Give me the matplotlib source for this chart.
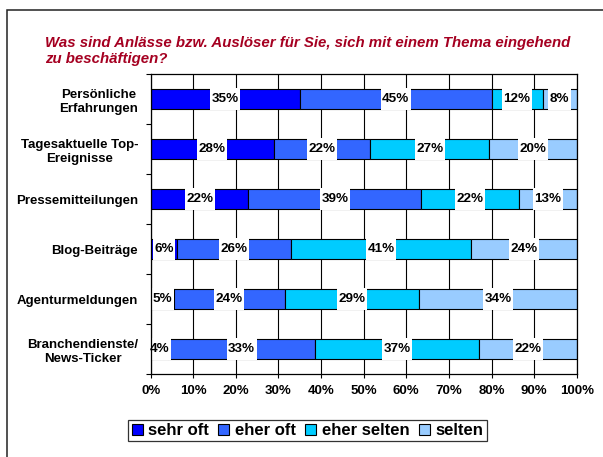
import numpy as np
import matplotlib.pyplot as plt
from matplotlib.patches import Rectangle
from matplotlib.ticker import PercentFormatter

plt.rcParams['font.family'] = ['Liberation Sans', 'DejaVu Sans']

kategorien = ['Persönliche\nErfahrungen', 'Tagesaktuelle Top-\nEreignisse',
              'Pressemitteilungen', 'Blog-Beiträge', 'Agenturmeldungen',
              'Branchendienste/\nNews-Ticker']
serien = ['sehr oft', 'eher oft', 'eher selten', 'selten']
sehr_oft = [35, 28, 22, 6, 5, 4]
eher_oft = [45, 22, 39, 26, 24, 33]
eher_selten = [12, 27, 22, 41, 29, 37]
selten = [8, 20, 13, 24, 34, 22]
farben = ['#0000FF', '#3366FF', '#00CCFF', '#99CCFF']

werte = np.array([sehr_oft, eher_oft, eher_selten, selten], dtype=float)
anteile = werte / werte.sum(axis=0)   # 100%-gestapelt

fig = plt.figure(figsize=(6.03, 4.57), dpi=100)
ax = fig.add_axes([0.2499, 0.181, 0.7065, 0.6565])

y = np.arange(len(kategorien))
links = np.zeros(len(kategorien))
texte = []
for i, name in enumerate(serien):
    ax.barh(y, anteile[i], left=links, height=0.4, color=farben[i],
            edgecolor='black', linewidth=0.8, label=name, zorder=2)
    for k in range(len(kategorien)):
        t = ax.text(links[k] + anteile[i][k] / 2, y[k], '%d%%' % werte[i][k],
                    ha='center', va='center', fontsize=9.7, fontweight='bold',
                    zorder=4)
        texte.append((t, y[k]))
    links += anteile[i]

ax.set_xlim(0, 1)
ax.set_ylim(len(kategorien) - 0.5, -0.5)
ax.set_xticks(np.arange(0, 1.01, 0.1))
ax.xaxis.set_major_formatter(PercentFormatter(1.0, decimals=0))
ax.set_yticks(y, kategorien)
ax.set_yticks(np.arange(-0.5, len(kategorien)), minor=True)
for lbl in ax.get_yticklabels():
    lbl.set_multialignment('center')
ax.tick_params(axis='y', which='major', length=0, pad=9, labelsize=9.5)
ax.tick_params(axis='y', which='minor', length=3.5, width=0.8, direction='out')
ax.tick_params(axis='x', length=3, width=0.8, direction='out', pad=5, labelsize=9.5)
for lbl in ax.get_xticklabels() + ax.get_yticklabels():
    lbl.set_fontweight('bold')
ax.grid(axis='x', color='black', linewidth=0.8, zorder=0)
ax.set_axisbelow(True)
for s in ax.spines.values():
    s.set_linewidth(0.9)
    s.set_zorder(5)

# weisse Kaesten hinter den Beschriftungen, so hoch wie der Balken
fig.canvas.draw()
r = fig.canvas.get_renderer()
inv = ax.transData.inverted()
for t, yk in texte:
    bb = t.get_window_extent(r)
    x0 = inv.transform((bb.x0 - 1.5, 0))[0]
    x1 = inv.transform((bb.x1 + 1.5, 0))[0]
    ax.add_patch(Rectangle((x0, yk - 0.22), x1 - x0, 0.44, fc='white',
                           ec='none', zorder=3))

leg = fig.legend(loc='center', bbox_to_anchor=(0.51, 0.058), ncol=4,
                 prop={'weight': 'bold', 'size': 12}, frameon=True,
                 fancybox=False, edgecolor='black', handlelength=0.65,
                 handleheight=0.65, handletextpad=0.35, columnspacing=0.55,
                 borderpad=0.2, borderaxespad=0)
leg.get_frame().set_linewidth(0.9)

fig.text(45 / 603, 1 - 63 / 457,
         'Was sind Anlässe bzw. Auslöser für Sie, sich mit einem Thema eingehend\n'
         'zu beschäftigen?', color='#A50021', fontsize=10.85, fontweight='bold',
         fontstyle='italic', ha='left', va='baseline', linespacing=1.2)

fig.patches.append(Rectangle((7 / 603, -0.1), 2, 1.1 - 10 / 457, fill=False,
                             edgecolor='#222222', linewidth=1.1,
                             transform=fig.transFigure, figure=fig))

fig.savefig('out.png', dpi=100)
